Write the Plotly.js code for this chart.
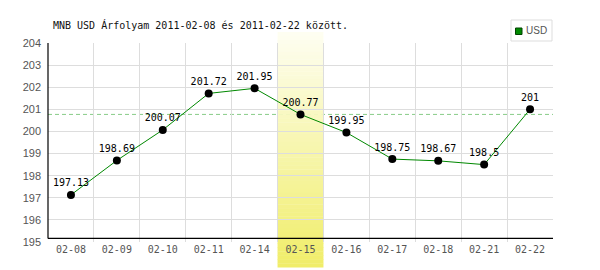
<!DOCTYPE html>
<html>
<head>
<meta charset="utf-8">
<script src="https://cdn.plot.ly/plotly-3.0.1.min.js"></script>
<style>html,body{margin:0;padding:0;background:#fff;}#chart{width:600px;height:270px;}</style>
</head>
<body>
<div id="chart"></div>
<script>
// Data
var dates = ["02-08","02-09","02-10","02-11","02-14","02-15","02-16","02-17","02-18","02-21","02-22"];
var usdRates = [197.13, 198.69, 200.07, 201.72, 201.95, 200.77, 199.95, 198.75, 198.67, 198.5, 201];
var seriesName = "USD";
var highlightDate = "02-15";
var referenceRate = 200.77;
var chartTitle = "MNB USD Árfolyam 2011-02-08 és 2011-02-22 között.";

(function(){
var mono = "DejaVu Sans Mono, monospace";
var n = dates.length;
var hi = dates.indexOf(highlightDate);

var shapes = [];
// dashed reference line
shapes.push({type:"line", xref:"paper", x0:0, x1:1, yref:"y", y0:referenceRate, y1:referenceRate,
  line:{color:"#88cc88", width:1, dash:"4px,3px"}, layer:"between"});
// gradient highlight band (stacked strips)
var cTop = [254,254,242], cBot = [240,237,104];
var yTop = 1.055, yBot = -0.126, N = 60;
for (var i = 0; i < N; i++) {
  var t = (i + 0.5) / N;
  var c = cTop.map(function(v, k){ return Math.round(v + (cBot[k] - v) * t); });
  var y1 = yTop - (yTop - yBot) * i / N;
  var y0 = yTop - (yTop - yBot) * (i + 1) / N - 0.002;
  shapes.push({type:"rect", xref:"paper", x0:hi / n, x1:(hi + 1) / n, yref:"paper", y0:y0, y1:y1,
    fillcolor:"rgb(" + c.join(",") + ")", line:{width:0}, layer:"between"});
}
// axis lines
shapes.push({type:"line", xref:"paper", x0:0, x1:1, yref:"paper", y0:0.018, y1:0.018, line:{color:"#000", width:1.2}, layer:"above"});
shapes.push({type:"line", xref:"paper", x0:0, x1:0, yref:"paper", y0:0.018, y1:1, line:{color:"#000", width:1.2}, layer:"above"});
// legend box
shapes.push({type:"rect", xref:"paper", yref:"paper", x0:(511-48)/505, x1:(552-48)/505, y0:(242-41)/199, y1:(242-20)/199,
  line:{color:"#dddddd", width:1}, fillcolor:"#fff", layer:"above"});
shapes.push({type:"rect", xref:"paper", yref:"paper", x0:(515.5-48)/505, x1:(522-48)/505, y0:(242-34.5)/199, y1:(242-28)/199,
  line:{color:"#004400", width:1}, fillcolor:"#008800", layer:"above"});

var trace = {
  x: dates, y: usdRates, type: "scatter", mode: "lines+markers+text",
  name: seriesName, showlegend: false,
  line: {color: "#008800", width: 1},
  marker: {color: "#000", size: 8},
  text: usdRates.map(String), textposition: "top center",
  textfont: {family: mono, size: 10, color: "#000"},
  cliponaxis: false, hoverinfo: "skip"
};

var layout = {
  width: 600, height: 270,
  margin: {l: 48, r: 47, t: 43, b: 28},
  paper_bgcolor: "#fff", plot_bgcolor: "#fff",
  showlegend: false,
  title: {text: chartTitle, xref: "container", x: 53/600, xanchor: "left", y: 1 - 25/270, yanchor: "middle",
    font: {family: mono, size: 10, color: "#111"}},
  xaxis: {type: "category", tickson: "boundaries", showgrid: true, gridcolor: "#dddddd", gridwidth: 1,
    ticks: "", showline: false, zeroline: false,
    tickfont: {family: mono, size: 10, color: "#555"}, ticklabelstandoff: 0,
    range: [-0.5, n - 0.5], fixedrange: true},
  yaxis: {range: [195, 204], dtick: 1, tick0: 195, showgrid: true, gridcolor: "#dddddd", gridwidth: 1,
    ticks: "", showline: false, zeroline: false,
    tickfont: {family: "Liberation Sans, Arial, sans-serif", size: 11, color: "#555"}, ticklabelstandoff: 6,
    fixedrange: true},
  shapes: shapes,
  annotations: [{text: seriesName, xref: "paper", yref: "paper", x: (524-48)/505, y: (242-31)/199,
    xanchor: "left", yanchor: "middle", showarrow: false,
    font: {family: "Liberation Sans, Arial, sans-serif", size: 10, color: "#555"}}]
};

Plotly.newPlot("chart", [trace], layout, {staticPlot: true, displayModeBar: false});
})();
</script>
</body>
</html>
